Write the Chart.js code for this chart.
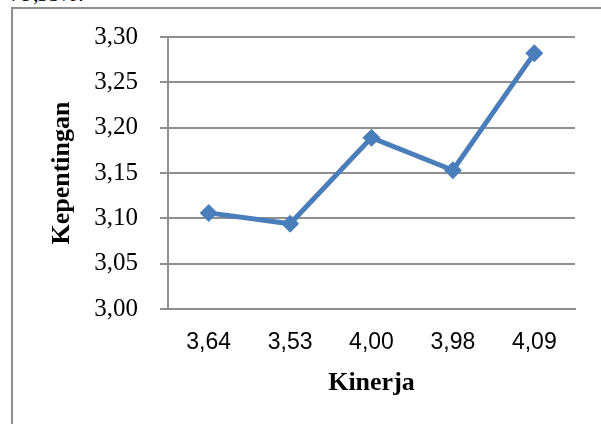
<!DOCTYPE html>
<html>
<head>
<meta charset="utf-8">
<script src="https://cdn.jsdelivr.net/npm/chart.js@4/dist/chart.umd.min.js"></script>
<style>
  html, body { margin: 0; padding: 0; background: #fff; }
  #wrap { position: relative; width: 601px; height: 424px; overflow: hidden; background: #fff; }
  #frame { position: absolute; left: 11px; top: 7px; width: 700px; height: 600px;
           border: 2px solid #8f8f8f; box-sizing: border-box; }
  #note { position: absolute; left: 11px; top: -17px; font: italic 22px "Liberation Serif", serif;
          line-height: 22px; color: #000; white-space: nowrap; }
  canvas { position: absolute; left: 0; top: 0; }
</style>
</head>
<body>
<div id="wrap">
  <div id="note">79,35%.</div>
  <div id="frame"></div>
  <canvas id="c" width="601" height="424"></canvas>
</div>
<script>
// Kinerja (performance) categories and Kepentingan (importance) scores
const categories = ["3,64", "3,53", "4,00", "3,98", "4,09"];
const kepentingan = [3.106, 3.094, 3.189, 3.153, 3.282];
const yTicks = [3.00, 3.05, 3.10, 3.15, 3.20, 3.25, 3.30];

const GRID = '#8f8f8f';
const BLUE = '#4a7ebb';

new Chart(document.getElementById('c'), {
  type: 'line',
  data: {
    labels: categories,
    datasets: [{
      data: kepentingan,
      borderColor: BLUE,
      backgroundColor: BLUE,
      borderWidth: 5,
      tension: 0,
      pointStyle: 'rectRot',
      pointRadius: 9,
      pointBorderWidth: 0,
      pointBackgroundColor: BLUE
    }]
  },
  options: {
    responsive: false,
    animation: false,
    devicePixelRatio: 1,
    layout: { padding: { left: 0, right: 26, top: 37, bottom: 0 } },
    plugins: { legend: { display: false }, tooltip: { enabled: false } },
    scales: {
      x: {
        type: 'category',
        offset: true,
        grid: { display: false, drawTicks: false, tickLength: 0 },
        border: { display: true, color: GRID, width: 2 },
        ticks: { color: '#000', padding: 20, font: { family: '"Liberation Sans", Arial, sans-serif', size: 23 } },
        title: {
          display: true, text: 'Kinerja', color: '#000',
          font: { family: '"Liberation Serif", "Times New Roman", serif', size: 26, weight: 'bold' },
          padding: { top: 0, bottom: 25 }
        },
        afterFit: s => { s.height = 115; }
      },
      y: {
        min: 3.0, max: 3.3,
        afterBuildTicks: s => { s.ticks = yTicks.map(v => ({ value: v })); },
        grid: { color: GRID, lineWidth: 2, drawTicks: true, tickLength: 8 },
        border: { display: true, color: GRID, width: 2 },
        ticks: {
          color: '#000', padding: 22,
          font: { family: '"Liberation Serif", "Times New Roman", serif', size: 25 },
          callback: v => v.toFixed(2).replace('.', ',')
        },
        title: {
          display: true, text: 'Kepentingan', color: '#000',
          font: { family: '"Liberation Serif", "Times New Roman", serif', size: 26, weight: 'bold' },
          padding: { top: 47, bottom: 0 }
        },
        afterFit: s => { s.width = 168; }
      }
    }
  }
});
</script>
</body>
</html>
